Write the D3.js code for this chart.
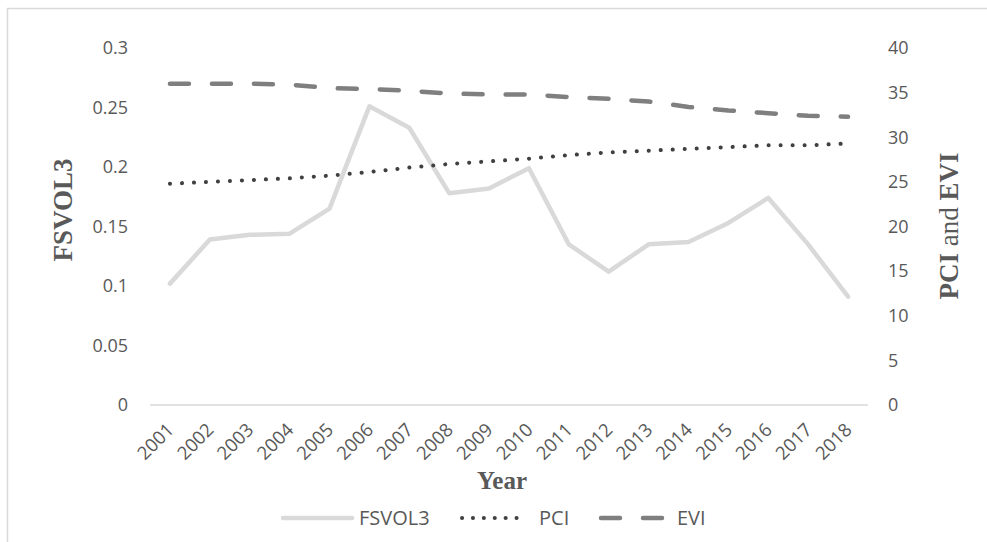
<!DOCTYPE html>
<html>
<head>
<meta charset="utf-8">
<script src="https://cdn.jsdelivr.net/npm/d3@7"></script>
<style>
  html, body { margin: 0; padding: 0; background: #fff; }
  svg { display: block; }
</style>
</head>
<body>
<svg id="chart" width="987" height="542"></svg>
<script>
// Years on the category axis
const years = ["2001","2002","2003","2004","2005","2006","2007","2008","2009",
               "2010","2011","2012","2013","2014","2015","2016","2017","2018"];

// FSVOL3 (left axis)
const fsvol3 = [0.102, 0.139, 0.143, 0.144, 0.165, 0.251, 0.233, 0.178, 0.182,
                0.199, 0.135, 0.112, 0.135, 0.137, 0.153, 0.174, 0.135, 0.091];

// PCI and EVI (right axis)
const pci = [24.8, 25.0, 25.2, 25.4, 25.7, 26.1, 26.6, 27.0, 27.3,
             27.6, 28.0, 28.3, 28.5, 28.7, 28.9, 29.1, 29.1, 29.3];
const evi = [36.0, 36.0, 36.0, 35.9, 35.5, 35.4, 35.2, 34.9, 34.8,
             34.8, 34.5, 34.3, 34.0, 33.4, 33.0, 32.7, 32.4, 32.3];

// Tick values for the two value axes
const leftTicks = [0, 0.05, 0.1, 0.15, 0.2, 0.25, 0.3];
const rightTicks = [0, 5, 10, 15, 20, 25, 30, 35, 40];

const svg = d3.select("#chart");
const W = 987, H = 542;
const plot = { left: 150, right: 868, top: 48, bottom: 405 };

const tickFont = "'Open Sans', 'Noto Sans', sans-serif";
const titleFont = "'Liberation Serif', 'DejaVu Serif', serif";
const textGrey = "#595959";

// Outer frame
svg.append("rect")
  .attr("x", 7.5).attr("y", 8.5)
  .attr("width", W + 10).attr("height", H + 10)
  .attr("fill", "none").attr("stroke", "#d9d9d9").attr("stroke-width", 1.5);

const x = d3.scaleBand().domain(years).range([plot.left, plot.right]).padding(0);
const xc = d => x(d) + x.bandwidth() / 2;
const yL = d3.scaleLinear().domain([0, 0.3]).range([plot.bottom, plot.top]);
const yR = d3.scaleLinear().domain([0, 40]).range([plot.bottom, plot.top]);

// Category axis baseline
svg.append("line")
  .attr("x1", plot.left).attr("x2", plot.right)
  .attr("y1", yL(0)).attr("y2", yL(0))
  .attr("stroke", "#d9d9d9").attr("stroke-width", 1.5);

// Left axis labels
const fmt = v => String(+v.toFixed(2));
svg.append("g").selectAll("text").data(leftTicks).join("text")
  .attr("x", 128).attr("y", d => yL(d))
  .attr("dy", "0.35em")
  .attr("text-anchor", "end")
  .attr("font-family", tickFont).attr("font-size", 18)
  .attr("fill", textGrey)
  .text(fmt);

// Right axis labels
svg.append("g").selectAll("text").data(rightTicks).join("text")
  .attr("x", 888).attr("y", d => yR(d))
  .attr("dy", "0.35em")
  .attr("text-anchor", "start")
  .attr("font-family", tickFont).attr("font-size", 18)
  .attr("fill", textGrey)
  .text(d => d);

// Year labels, rotated
svg.append("g").selectAll("text").data(years).join("text")
  .attr("transform", d => `translate(${xc(d) + 5},${431}) rotate(-45)`)
  .attr("text-anchor", "end")
  .attr("font-family", tickFont).attr("font-size", 18.5)
  .attr("fill", textGrey)
  .text(d => d);

// Axis titles
svg.append("text")
  .attr("transform", `translate(72,210) rotate(-90)`)
  .attr("text-anchor", "middle")
  .attr("font-family", titleFont).attr("font-size", 27).attr("font-weight", "bold")
  .attr("fill", textGrey)
  .text("FSVOL3");

const rt = svg.append("text")
  .attr("transform", `translate(958,226) rotate(-90)`)
  .attr("text-anchor", "middle")
  .attr("font-family", titleFont).attr("font-size", 27)
  .attr("fill", textGrey);
rt.append("tspan").attr("font-weight", "bold").text("PCI");
rt.append("tspan").text(" and ");
rt.append("tspan").attr("font-weight", "bold").text("EVI");

svg.append("text")
  .attr("x", 502).attr("y", 489)
  .attr("text-anchor", "middle")
  .attr("font-family", titleFont).attr("font-size", 25).attr("font-weight", "bold")
  .attr("fill", textGrey)
  .text("Year");

// Series styles
const series = [
  { name: "FSVOL3", values: fsvol3, scale: yL, color: "#d9d9d9", width: 4.5, dash: null },
  { name: "PCI", values: pci, scale: yR, color: "#404040", width: 4, dash: "0.1 11.9" },
  { name: "EVI", values: evi, scale: yR, color: "#7f7f7f", width: 4.5, dash: "19 23" }
];

series.forEach(s => {
  const line = d3.line()
    .x((d, i) => xc(years[i]))
    .y(d => s.scale(d));
  svg.append("path")
    .datum(s.values)
    .attr("d", line)
    .attr("fill", "none")
    .attr("stroke", s.color)
    .attr("stroke-width", s.width)
    .attr("stroke-linecap", "round")
    .attr("stroke-linejoin", "round")
    .attr("stroke-dasharray", s.dash);
});

// Legend
const legendY = 518;
const legendItems = [
  { s: series[0], x0: 283, x1: 352, tx: 359, dash: null },
  { s: series[1], x0: 462, x1: 527, tx: 539, dash: "0.1 10.8" },
  { s: series[2], x0: 601, x1: 663, tx: 677, dash: "19 23" }
];
legendItems.forEach(it => {
  svg.append("line")
    .attr("x1", it.x0).attr("x2", it.x1)
    .attr("y1", legendY).attr("y2", legendY)
    .attr("stroke", it.s.color).attr("stroke-width", it.s.width)
    .attr("stroke-linecap", "round")
    .attr("stroke-dasharray", it.dash);
  svg.append("text")
    .attr("x", it.tx).attr("y", legendY).attr("dy", "0.35em")
    .attr("font-family", tickFont).attr("font-size", 20)
    .attr("fill", textGrey)
    .text(it.s.name);
});
</script>
</body>
</html>
